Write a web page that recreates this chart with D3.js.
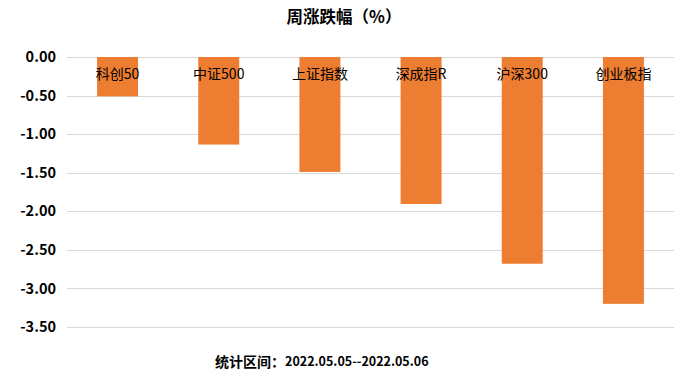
<!DOCTYPE html>
<html>
<head>
<meta charset="utf-8">
<script src="https://cdn.jsdelivr.net/npm/d3@7"></script>
<style>
  body { margin: 0; background: #fff; }
  text { font-family: "Noto Sans CJK SC", "Noto Sans", sans-serif; }
</style>
</head>
<body>
<div id="chart"></div>
<script>
const categories = ["科创50", "中证500", "上证指数", "深成指R", "沪深300", "创业板指"];
const changes = [-0.51, -1.135, -1.49, -1.905, -2.68, -3.20];
const yTicks = [0, -0.5, -1, -1.5, -2, -2.5, -3, -3.5];

const W = 687, H = 378;
const margin = {top: 57, right: 13, bottom: 51, left: 67},
    width = W - margin.left - margin.right,
    height = H - margin.top - margin.bottom;

const svg = d3.select("#chart")
  .append("svg")
    .attr("width", W)
    .attr("height", H);

const g = svg.append("g")
    .attr("transform", "translate(" + margin.left + "," + margin.top + ")");

// scales
const x = d3.scaleBand()
  .domain(categories)
  .range([0, width])
  .paddingInner(0.595)
  .paddingOuter(0.2975);

const y = d3.scaleLinear()
  .domain([0, -3.5])
  .range([0, height]);

// grid lines
g.append("g")
  .selectAll("line")
  .data(yTicks)
  .enter().append("line")
    .attr("x1", 0)
    .attr("x2", width)
    .attr("y1", d => Math.round(y(d)) + 0.5)
    .attr("y2", d => Math.round(y(d)) + 0.5)
    .attr("stroke", "#d9d9d9")
    .attr("stroke-width", 1);

// y axis labels
const yAxis = g.append("g")
  .call(d3.axisLeft(y).tickValues(yTicks).tickFormat(d3.format(".2f")).tickSize(0).tickPadding(11));
yAxis.select(".domain").remove();
yAxis.selectAll("text")
  .style("font-size", "14.5px")
  .style("font-weight", "bold")
  .attr("fill", "#000")
  .text(d => d === 0 ? "0.00" : d3.format(".2f")(d).replace("−", "-"));

// bars
g.selectAll("rect.bar")
  .data(categories)
  .enter().append("rect")
    .attr("class", "bar")
    .attr("x", d => x(d))
    .attr("y", y(0))
    .attr("width", x.bandwidth())
    .attr("height", (d, i) => y(changes[i]) - y(0))
    .attr("fill", "#ED7D31");

// category labels near the zero line
g.selectAll("text.cat")
  .data(categories)
  .enter().append("text")
    .attr("class", "cat")
    .attr("x", d => x(d) + x.bandwidth() / 2)
    .attr("y", 18)
    .attr("text-anchor", "middle")
    .attr("dominant-baseline", "middle")
    .style("font-size", "14px")
    .attr("fill", "#000")
    .text(d => d);

// title
svg.append("text")
  .attr("x", 344)
  .attr("y", 19)
  .attr("text-anchor", "middle")
  .attr("dominant-baseline", "middle")
  .style("font-size", "16.5px")
  .style("font-weight", "bold")
  .attr("fill", "#000")
  .text("周涨跌幅（%）");

// footer
const foot = svg.append("text")
  .attr("x", 215)
  .attr("y", 363)
  .attr("dominant-baseline", "middle")
  .attr("fill", "#000")
  .style("font-weight", "bold");
foot.append("tspan").style("font-size", "14px").text("统计区间：");
foot.append("tspan").style("font-size", "12.5px").text("2022.05.05--2022.05.06");
</script>
</body>
</html>
